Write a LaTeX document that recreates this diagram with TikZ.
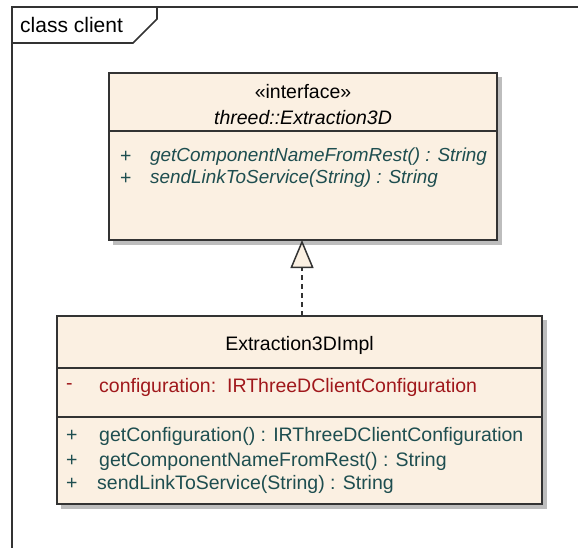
\documentclass[tikz,border=0pt]{standalone}
\usepackage{fontspec}
\setmainfont{Liberation Sans}
\usetikzlibrary{arrows.meta,calc}
\definecolor{cream}{HTML}{FBF0E2}
\definecolor{optxt}{HTML}{1E4E50}
\definecolor{attrtxt}{HTML}{A0181C}
\definecolor{edge}{HTML}{333333}
\definecolor{shade}{HTML}{BDBDBD}
\begin{document}
\begin{tikzpicture}[x=1pt,y=-1pt,
  every node/.style={font=\fontsize{19.5}{23}\selectfont},
  classbox/.style={draw=edge, fill=cream, line width=2pt, inner sep=0pt},
  shadowbox/.style={fill=shade, draw=none},
  txt/.style={inner sep=0pt, anchor=west},
  opline/.style={txt, text=optxt},
  iopline/.style={txt, text=optxt, font=\fontsize{18.9}{23}\selectfont\itshape},
  attrline/.style={txt, text=attrtxt},
  sep/.style={draw=edge, line width=1.5pt},
  frameline/.style={draw=edge, line width=1.6pt}
]
\useasboundingbox (0,0) rectangle (578,548);
% frame
\draw[frameline] (578,7) -- (12,7) -- (12,548);
\draw[frameline] (12,43) -- (133,43) -- (157,19) -- (157,7);
\node[txt, text=black, font=\fontsize{21}{24}\selectfont] (framelabel) at (20,25) {class client};

% interface box
\fill[shadowbox] (113,77) rectangle (502,245);
\node[classbox, minimum width=388pt, minimum height=167pt] (iface) at (303,156.5) {};
\draw[sep] (109,131) -- (497,131);
\node[inner sep=0pt, text=black] (stereo) at (303,92) {«interface»};
\node[inner sep=0pt, text=black, font=\fontsize{19.5}{23}\selectfont\itshape] (ifname) at (303,118) {threed::Extraction3D};
\node[opline] (ip1) at (120,157) {+};
\node[iopline] (im1) at (150,157) {getComponentNameFromRest() : String};
\node[opline] (ip2) at (120,179) {+};
\node[iopline] (im2) at (150,179) {sendLinkToService(String) : String};

% impl box
\fill[shadowbox] (61,320) rectangle (547,509);
\node[classbox, minimum width=485pt, minimum height=188pt] (impl) at (299.5,410) {};
\draw[sep] (57,368) -- (542,368);
\draw[sep] (57,417) -- (542,417);
\node[inner sep=0pt, text=black] (implname) at (299.5,345) {Extraction3DImpl};
\node[attrline] (am) at (66,387) {-};
\node[attrline] (a1) at (99,387) {configuration:\ \ IRThreeDClientConfiguration};
\node[opline] (p1) at (66,436) {+};
\node[opline] (m1) at (99,436) {getConfiguration() : IRThreeDClientConfiguration};
\node[opline] (p2) at (66,461) {+};
\node[opline] (m2) at (99,461) {getComponentNameFromRest() : String};
\node[opline] (p3) at (66,484) {+};
\node[opline] (m3) at (97,484) {sendLinkToService(String) : String};

% realization
\coordinate (tip) at (302,240);
\coordinate (start) at (302,316);
\draw[draw=edge, line width=1.8pt, dash pattern=on 5pt off 4pt,
  -{Triangle[open, length=28pt, width=23pt, fill=cream, line width=1.5pt]}] (start) -- (tip);
\end{tikzpicture}
\end{document}
